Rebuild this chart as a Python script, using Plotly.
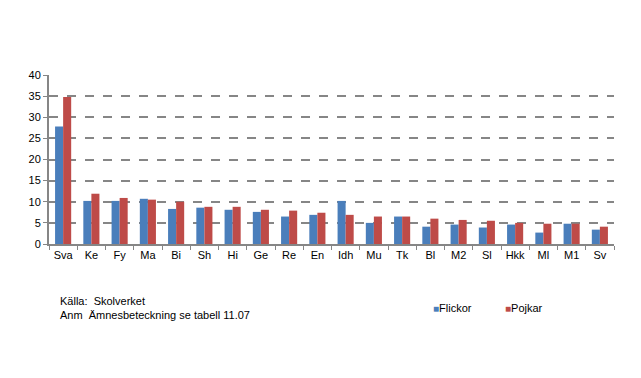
import plotly.graph_objects as go

categories = ["Sva", "Ke", "Fy", "Ma", "Bi", "Sh", "Hi", "Ge", "Re", "En",
              "Idh", "Mu", "Tk", "Bl", "M2", "Sl", "Hkk", "Ml", "M1", "Sv"]
flickor = [27.8, 10.2, 10.2, 10.7, 8.3, 8.6, 8.1, 7.6, 6.5, 6.9,
           10.2, 5.0, 6.5, 4.1, 4.6, 3.9, 4.6, 2.7, 4.8, 3.4]
pojkar = [34.8, 11.9, 10.9, 10.5, 10.0, 8.8, 8.8, 8.1, 7.9, 7.4,
          6.9, 6.5, 6.5, 6.0, 5.7, 5.5, 5.0, 4.8, 4.8, 4.1]
y_ticks = [0, 5, 10, 15, 20, 25, 30, 35, 40]

BLUE = "#4A7EBB"
RED = "#BE4B48"
FONT = "Liberation Sans, Arial, sans-serif"

fig = go.Figure()
fig.add_trace(go.Bar(x=categories, y=flickor, name="Flickor", marker_color=BLUE,
                     marker_line_width=0, showlegend=False))
fig.add_trace(go.Bar(x=categories, y=pojkar, name="Pojkar", marker_color=RED,
                     marker_line_width=0, showlegend=False))
# legend entries: small coloured square drawn as part of the label
for name, col, lg in (("Flickor", BLUE, "legend"), ("Pojkar", RED, "legend2")):
    fig.add_trace(go.Scatter(
        x=[None], y=[None], mode="markers", legend=lg,
        name=f"<span style='color:{col}; font-size:10px'>■</span>{name}",
        marker=dict(symbol="square", size=1, color="rgba(0,0,0,0)")))

# page body has an 8px margin; figure is sized to fit the window
W, H = 633, 370
L, T, R, B = 41, 67, 27, 134
PW, PH = W - L - R, H - T - B

leg_common = dict(orientation="h", xanchor="left", yanchor="middle", y=-64 / PH,
                  font=dict(family=FONT, size=11, color="black"),
                  itemwidth=30, bgcolor="rgba(0,0,0,0)", borderwidth=0)

fig.update_layout(
    width=W, height=H,
    margin=dict(l=L, r=R, t=T, b=B, autoexpand=False),
    paper_bgcolor="white", plot_bgcolor="white",
    barmode="group", bargap=0.43, bargroupgap=0,
    font=dict(family=FONT, size=11, color="black"),
    showlegend=True,
    legend=dict(x=(385 - L) / PW, **leg_common),
    legend2=dict(x=(457 - L) / PW, **leg_common),
    xaxis=dict(showline=True, linecolor="#868686", linewidth=2, tickangle=0,
               ticks="outside", ticklen=4, tickcolor="#868686", tickwidth=1,
               tickson="boundaries", showgrid=False, fixedrange=True,
               automargin=False),
    yaxis=dict(range=[0, 40], tickvals=y_ticks, showline=True, linecolor="#868686",
               linewidth=2, ticks="outside", ticklen=4, tickcolor="#868686",
               showgrid=True, gridcolor="#868686", gridwidth=2, griddash="dash",
               zeroline=False, fixedrange=True, automargin=False),
    annotations=[
        dict(text="Källa:  Skolverket<br>Anm  Ämnesbeteckning se tabell 11.07",
             xref="paper", yref="paper", x=9 / PW, y=-49 / PH,
             xanchor="left", yanchor="top", showarrow=False, align="left",
             font=dict(family=FONT, size=11, color="black")),
    ],
)

fig.write_html("out.html")
